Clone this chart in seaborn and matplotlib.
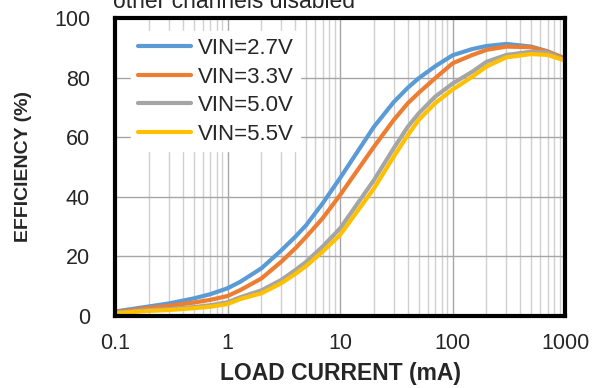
import numpy as np
import pandas as pd
import matplotlib
matplotlib.use("Agg")
import matplotlib.pyplot as plt
import seaborn as sns
from matplotlib.ticker import FixedLocator, FixedFormatter, LogLocator, NullFormatter

current = [0.1, 0.2, 0.3, 0.5, 0.7, 1, 1.3, 2, 3, 4, 5, 7, 10, 20, 30, 40, 50, 70,
           100, 150, 200, 300, 500, 700, 1000]
eff_27 = [1.5, 3.2, 4.2, 5.9, 7.3, 9.3, 11.5, 16, 22, 26.6, 30.5, 37.8, 46.3, 63.5, 71.8,
          76.6, 79.8, 83.8, 87.5, 89.6, 90.6, 91.3, 90.4, 88.8, 86.2]
eff_33 = [1.3, 2.7, 3.4, 4.5, 5.4, 6.7, 8.7, 12.6, 18.2, 22.7, 26.6, 32.8, 40.6, 56.8, 65.8,
          71.4, 74.9, 79.8, 84.8, 87.6, 89.3, 90.4, 90.2, 88.7, 86.5]
eff_50 = [1.1, 2.0, 2.3, 3.0, 3.6, 4.6, 6.3, 8.6, 12.1, 15.4, 18.2, 23.3, 29.4, 45.6, 56.3,
          63.5, 68, 73.6, 78, 82, 85.3, 87.6, 88.7, 88.4, 85.9]
eff_55 = [0.9, 1.7, 2.0, 2.6, 3.1, 4.0, 5.7, 7.6, 11, 14.1, 16.8, 21.6, 27.2, 42.8, 53.5,
          60.7, 65.8, 71.4, 76, 80.3, 83.7, 86.8, 87.9, 87.6, 85.7]
series_names = ["VIN=2.7V", "VIN=3.3V", "VIN=5.0V", "VIN=5.5V"]
colors = ["#5B9BD5", "#ED7D31", "#A5A5A5", "#FFC000"]
x_ticks = [0.1, 1, 10, 100, 1000]
x_tick_labels = ["0.1", "1", "10", "100", "1000"]
y_ticks = [0, 20, 40, 60, 80, 100]

frames = []
for name, vals in zip(series_names, [eff_27, eff_33, eff_50, eff_55]):
    frames.append(pd.DataFrame({"current": current, "eff": vals, "series": name}))
df = pd.concat(frames, ignore_index=True)

sns.set_style("white")
plt.rcParams["font.family"] = ["Liberation Sans", "DejaVu Sans"]

fig = plt.figure(figsize=(5.93, 3.88), dpi=100)
ax = fig.add_axes([0.194, 0.1856, 0.759, 0.768])

sns.lineplot(data=df, x="current", y="eff", hue="series", hue_order=series_names,
             palette=colors, linewidth=3.0, ax=ax, legend=True, sort=False)

ax.set_xscale("log")
ax.set_xlim(0.1, 1000)
ax.set_ylim(0, 100)
ax.xaxis.set_major_locator(FixedLocator(x_ticks))
ax.xaxis.set_major_formatter(FixedFormatter(x_tick_labels))
ax.xaxis.set_minor_locator(LogLocator(base=10, subs=np.arange(2, 10)))
ax.xaxis.set_minor_formatter(NullFormatter())
ax.set_yticks(y_ticks)

ax.set_axisbelow(True)
ax.grid(which="major", axis="both", color="#a6a6a6", linewidth=1.0)
ax.grid(which="minor", axis="x", color="#d0d0d0", linewidth=1.0)

for s in ax.spines.values():
    s.set_visible(True)
    s.set_color("black")
    s.set_linewidth(3.0)

ax.tick_params(axis="both", which="both", length=0)
ax.tick_params(axis="x", labelsize=15.5, pad=12)
ax.tick_params(axis="y", labelsize=15.5, pad=18)

ax.set_xlabel("LOAD CURRENT (mA)", fontsize=16.5, fontweight="bold", labelpad=6)
ax.set_ylabel("EFFICIENCY (%)", fontsize=14, fontweight="bold", labelpad=16)

leg = ax.legend(loc="upper left", bbox_to_anchor=(0.036, 0.955), fontsize=16,
                frameon=True, fancybox=False, framealpha=1.0, edgecolor="white",
                handlelength=2.4, handletextpad=0.3, labelspacing=0.34,
                borderpad=0.3, borderaxespad=0.0)
for line in leg.get_lines():
    line.set_linewidth(3.0)

fig.text(0.19, 1 - 8 / 388, "other channels disabled", fontsize=16.5,
         va="baseline", ha="left")

fig.savefig("out.png", dpi=100)
